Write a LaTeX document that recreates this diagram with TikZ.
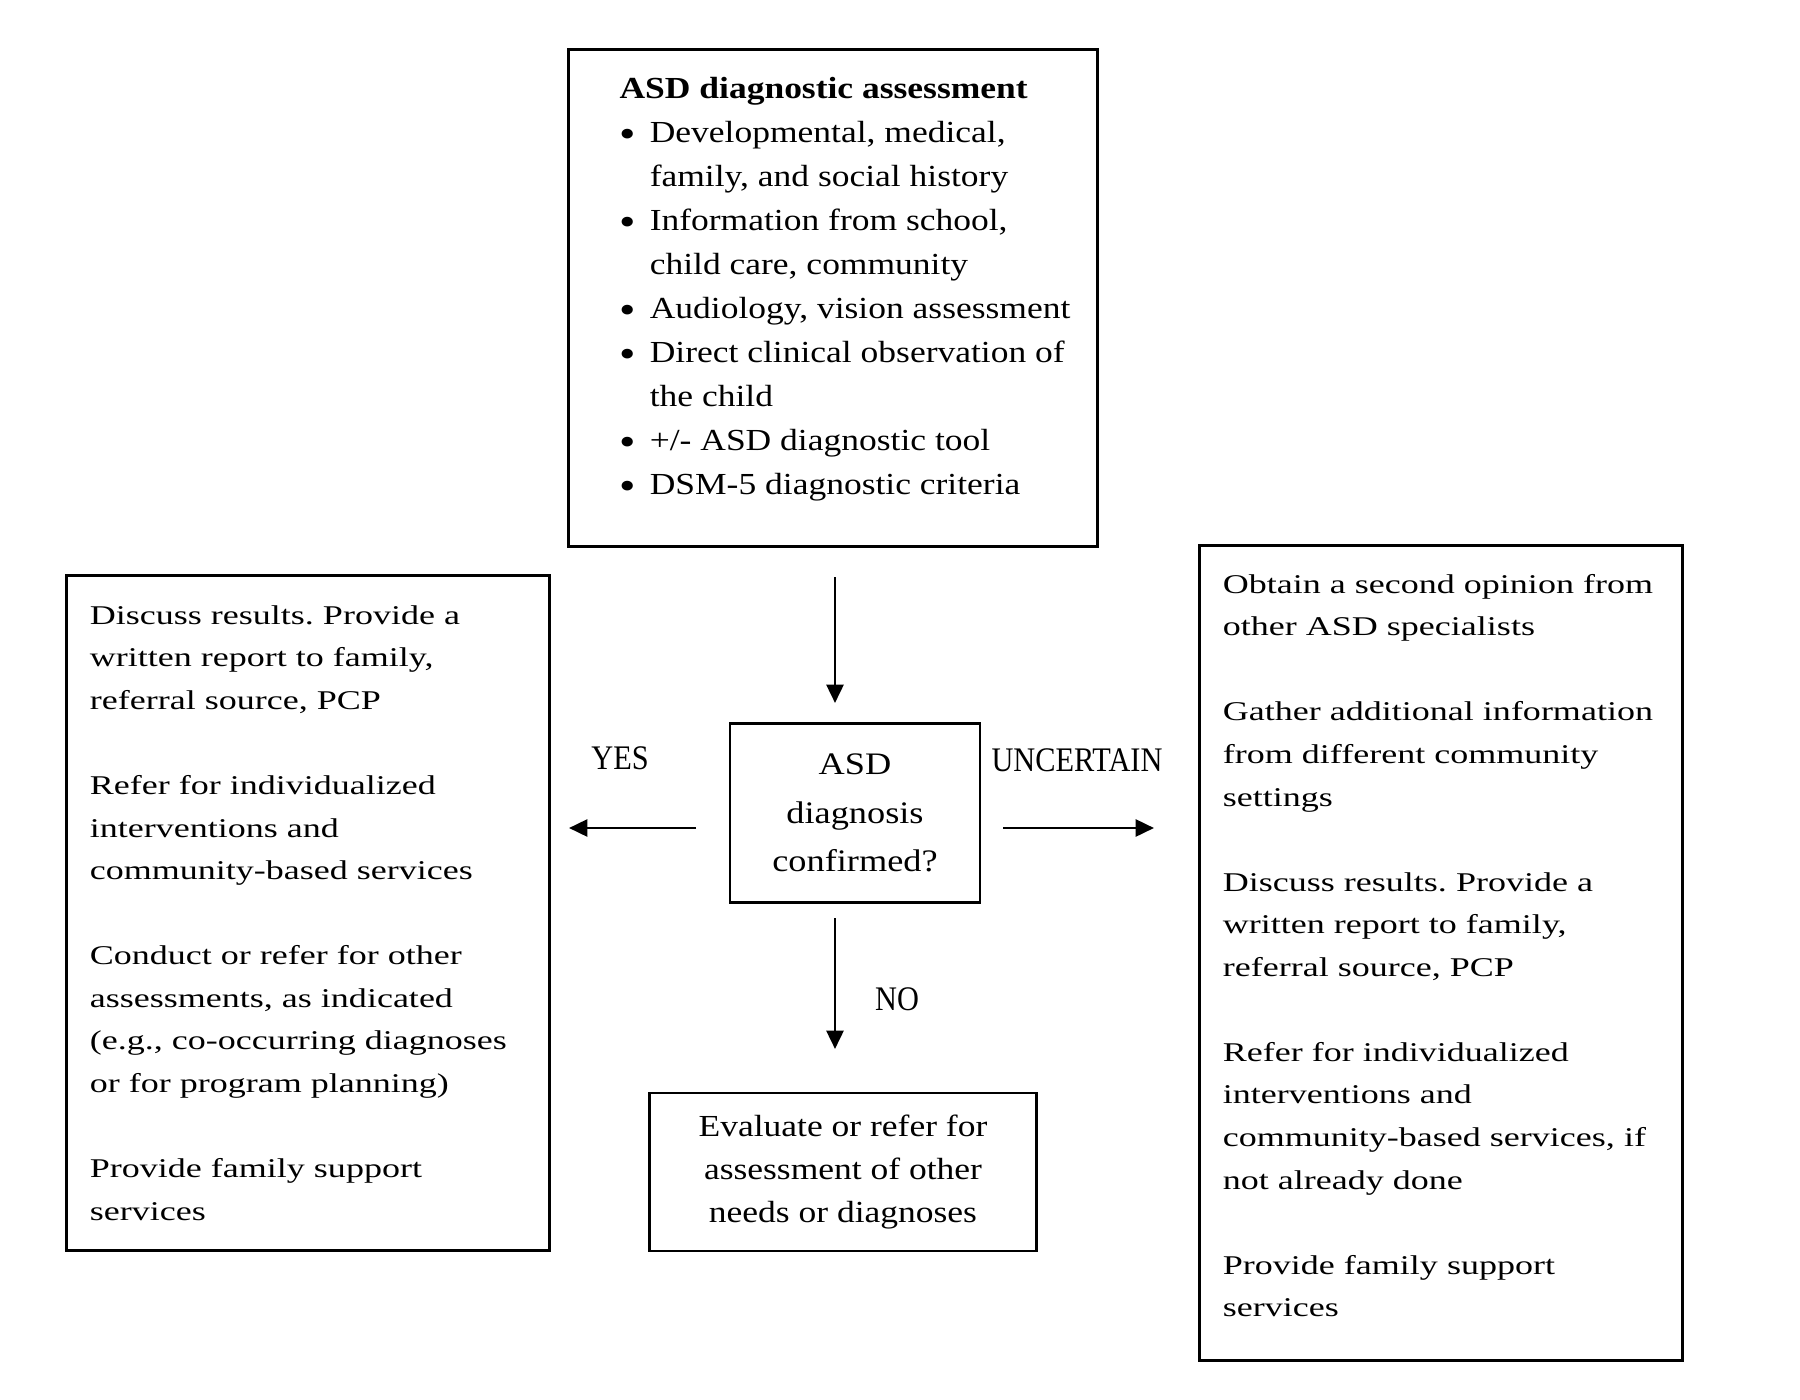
\documentclass[tikz,border=0pt]{standalone}
\usepackage{fontspec}
\setmainfont{Liberation Serif}
\newfontfamily\topfont[FakeStretch=1.16]{Liberation Serif}
\newfontfamily\sidefont[FakeStretch=1.33]{Liberation Serif}
\newfontfamily\lblfont[FakeStretch=0.88]{Liberation Serif}
\usetikzlibrary{arrows.meta}
\frenchspacing

\newcommand{\bul}{\raisebox{-0.35ex}{\fontsize{11.5}{11.5}\selectfont\textbullet}\hspace{0.45em}}
\newcommand{\ind}{\phantom{\bul}}

\begin{document}
\begin{tikzpicture}[x=0.01cm, y=-0.01cm, >={Triangle[length=5.2pt, width=4.8pt]},
    box/.style={draw, line width=0.8pt, inner sep=0pt},
    arr/.style={->, line width=0.8pt},
    lbl/.style={font=\lblfont\fontsize{9.8}{12}\selectfont, inner sep=0pt}]

    \useasboundingbox (0,0) rectangle (1800,1400);

    % -------------------------------------------------------
    % 1. Assessment box
    % -------------------------------------------------------
    \node[box, minimum width=5.28cm, minimum height=4.96cm,
          font=\topfont\fontsize{8.7}{12.5}\selectfont] (assess) at (833,298)
      {\begin{tabular}{@{\hspace{0.24cm}}l@{}}
       \textbf{ASD diagnostic assessment}\\
       \bul Developmental, medical,\\
       \ind family, and social history\\
       \bul Information from school,\\
       \ind child care, community\\
       \bul Audiology, vision assessment\\
       \bul Direct clinical observation of\\
       \ind the child\\
       \bul +/- ASD diagnostic tool\\
       \bul DSM-5 diagnostic criteria\rule[-0.34cm]{0pt}{0pt}
       \end{tabular}};

    % -------------------------------------------------------
    % 2. Decision box
    % -------------------------------------------------------
    \node[box, minimum width=2.5cm, minimum height=1.79cm, align=center,
          font=\topfont\fontsize{8.9}{13.7}\selectfont] (confirm) at (855,813)
      {ASD\\ diagnosis\\ confirmed?};

    % -------------------------------------------------------
    % 3. Outcome boxes
    % -------------------------------------------------------
    \node[box, minimum width=4.82cm, minimum height=6.75cm, text width=4.36cm, align=left,
          font=\sidefont\fontsize{7.7}{12.1}\selectfont] (yesbox) at (308,913)
      {Discuss results. Provide a\\
       written report to family,\\
       referral source, PCP\\[12.1pt]
       Refer for individualized\\
       interventions and\\
       community-based services\\[12.1pt]
       Conduct or refer for other\\
       assessments, as indicated\\
       (e.g., co-occurring diagnoses\\
       or for program planning)\\[12.1pt]
       Provide family support\\
       services};

    \node[box, minimum width=4.82cm, minimum height=8.15cm, text width=4.36cm, align=left,
          font=\sidefont\fontsize{7.7}{12.1}\selectfont] (unsurebox) at (1441,953)
      {Obtain a second opinion from\\
       other ASD specialists\\[12.1pt]
       Gather additional information\\
       from different community\\
       settings\\[12.1pt]
       Discuss results. Provide a\\
       written report to family,\\
       referral source, PCP\\[12.1pt]
       Refer for individualized\\
       interventions and\\
       community-based services, if\\
       not already done\\[12.1pt]
       Provide family support\\
       services\rule[-0.15cm]{0pt}{0pt}};

    \node[box, minimum width=3.87cm, minimum height=1.58cm, align=center,
          font=\topfont\fontsize{8.7}{12.1}\selectfont] (nobox) at (843,1172)
      {Evaluate or refer for\\ assessment of other\\ needs or diagnoses};

    % -------------------------------------------------------
    % 4. Arrows and labels
    % -------------------------------------------------------
    \coordinate (t1) at (835,577);  \coordinate (t2) at (835,703);
    \coordinate (l1) at (696,828);  \coordinate (l2) at (569,828);
    \coordinate (r1) at (1003,828); \coordinate (r2) at (1154,828);
    \coordinate (b1) at (835,918);  \coordinate (b2) at (835,1049);

    \draw[arr] (t1) -- (t2);
    \draw[arr] (l1) -- (l2);
    \draw[arr] (r1) -- (r2);
    \draw[arr] (b1) -- (b2);

    \node[lbl] (yes) at (620,758) {YES};
    \node[lbl] (unsure) at (1077,760) {UNCERTAIN};
    \node[lbl] (no) at (897,999) {NO};
\end{tikzpicture}
\end{document}
